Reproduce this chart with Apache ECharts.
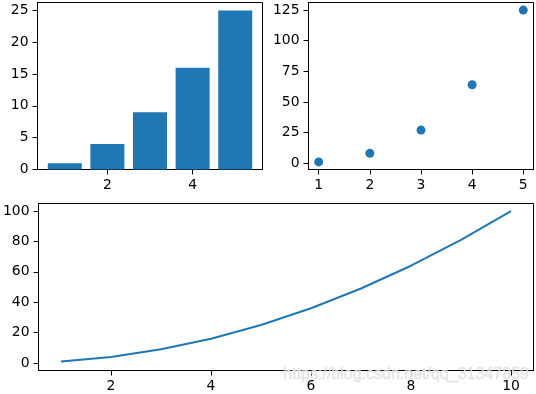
<!DOCTYPE html>
<html>
<head>
<meta charset="utf-8">
<script src="https://cdn.jsdelivr.net/npm/echarts@6/dist/echarts.min.js"></script>
<style>
html,body{margin:0;padding:0;background:#fff;}
#chart{width:536px;height:394px;}
</style>
</head>
<body>
<div id="chart"></div>
<script>
// Data
const barX = [1, 2, 3, 4, 5];
const barY = [1, 4, 9, 16, 25];
const scatterX = [1, 2, 3, 4, 5];
const scatterY = [1, 8, 27, 64, 125];
const lineX = [1, 2, 3, 4, 5, 6, 7, 8, 9, 10];
const lineY = [1, 4, 9, 16, 25, 36, 49, 64, 81, 100];

// Tick labels
const barXTicks = [2, 4];
const barYTicks = [0, 5, 10, 15, 20, 25];
const scatterXTicks = [1, 2, 3, 4, 5];
const scatterYTicks = [0, 25, 50, 75, 100, 125];
const lineXTicks = [2, 4, 6, 8, 10];
const lineYTicks = [0, 20, 40, 60, 80, 100];

const watermark = 'https://blog.csdn.net/qq_31347859';

const BLUE = '#1f77b4';
const FONT = 'DejaVu Sans';
const FS = 13.9;

function pairs(xs, ys) { return xs.map((x, i) => [x, ys[i]]); }

function xAxis(gridIndex, min, max, ticks) {
  return {
    type: 'value', gridIndex, min, max,
    axisLine: { show: true, onZero: false, lineStyle: { color: '#000', width: 1 } },
    axisTick: { show: true, length: 5, inside: false, customValues: ticks, lineStyle: { color: '#000', width: 1 } },
    axisLabel: { show: true, margin: 9, customValues: ticks, color: '#000', fontFamily: FONT, fontSize: FS },
    splitLine: { show: false }
  };
}
function yAxis(gridIndex, min, max, ticks) {
  return {
    type: 'value', gridIndex, min, max,
    axisLine: { show: true, onZero: false, lineStyle: { color: '#000', width: 1 } },
    axisTick: { show: true, length: 5, inside: false, customValues: ticks, lineStyle: { color: '#000', width: 1 } },
    axisLabel: { show: true, margin: 9, customValues: ticks, color: '#000', fontFamily: FONT, fontSize: FS },
    splitLine: { show: false }
  };
}

const chart = echarts.init(document.getElementById('chart'), null, { renderer: 'canvas' });
chart.setOption({
  animation: false,
  backgroundColor: '#fff',
  grid: [
    { left: 37.5, top: 2.5, width: 225, height: 167, show: true, borderColor: '#000', borderWidth: 1, backgroundColor: 'transparent' },
    { left: 308.5, top: 2.5, width: 225, height: 167, show: true, borderColor: '#000', borderWidth: 1, backgroundColor: 'transparent' },
    { left: 37.5, top: 203.5, width: 496, height: 167, show: true, borderColor: '#000', borderWidth: 1, backgroundColor: 'transparent' }
  ],
  xAxis: [
    xAxis(0, 0.36, 5.64, barXTicks),
    xAxis(1, 0.8, 5.2, scatterXTicks),
    xAxis(2, 0.55, 10.45, lineXTicks)
  ],
  yAxis: [
    yAxis(0, 0, 26.25, barYTicks),
    yAxis(1, -5.2, 131.2, scatterYTicks),
    yAxis(2, -4.95, 104.95, lineYTicks)
  ],
  series: [
    {
      type: 'bar', xAxisIndex: 0, yAxisIndex: 0,
      data: pairs(barX, barY), barWidth: 34,
      itemStyle: { color: BLUE }
    },
    {
      type: 'scatter', xAxisIndex: 1, yAxisIndex: 1,
      data: pairs(scatterX, scatterY), symbolSize: 9,
      itemStyle: { color: BLUE, opacity: 1 }
    },
    {
      type: 'line', xAxisIndex: 2, yAxisIndex: 2,
      data: pairs(lineX, lineY), showSymbol: false, symbol: 'none',
      lineStyle: { color: BLUE, width: 2 }
    }
  ],
  graphic: [
    {
      type: 'text', left: 283, top: 366, z: 100,
      style: {
        text: watermark,
        font: '16px "Liberation Sans"',
        fill: 'rgba(228,228,228,0.85)',
        stroke: 'rgba(200,200,200,0.5)',
        lineWidth: 0.6
      }
    }
  ]
});
</script>
</body>
</html>
